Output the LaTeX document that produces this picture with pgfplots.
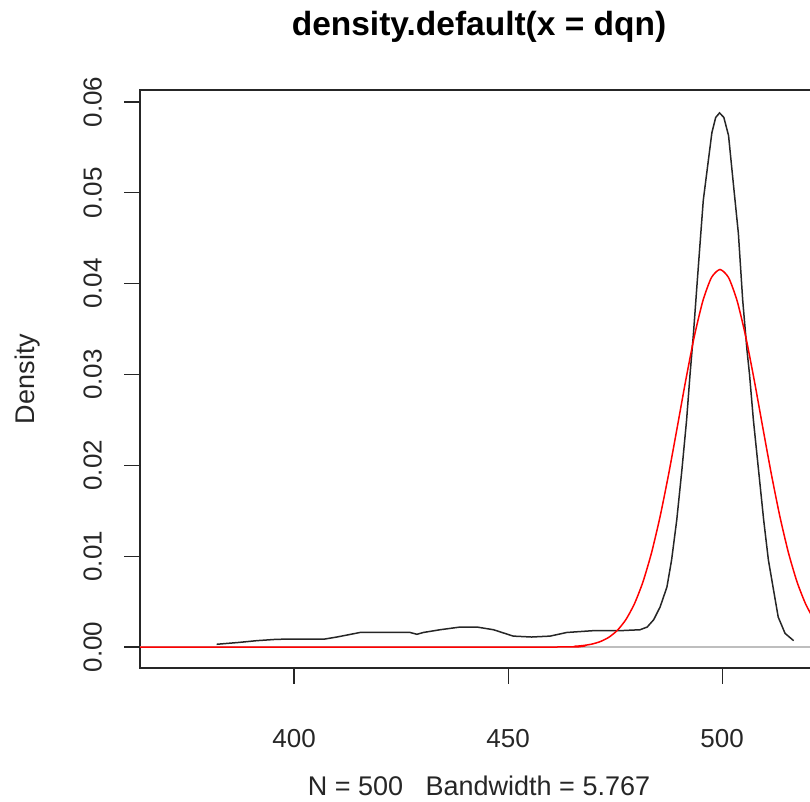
\documentclass[border=0pt]{standalone}
\usepackage{fontspec}
\setmainfont{Liberation Sans}
\usepackage{pgfplots}
\pgfplotsset{compat=1.18}
\definecolor{rgrey}{HTML}{BEBEBE}
\definecolor{rred}{HTML}{FF0000}

% kernel density of dqn (black)
\pgfplotstableread{
x y
381.9 0.0003
387.0 0.0005
391.3 0.0007
396.0 0.00085
402.0 0.00088
407.2 0.00088
410.0 0.0011
415.4 0.0016
421.0 0.0016
427.1 0.0016
428.7 0.0014
430.2 0.0016
434.1 0.0019
438.8 0.0022
442.7 0.0022
446.6 0.0019
451.2 0.0012
455.5 0.0011
459.8 0.0012
463.7 0.0016
469.9 0.0018
476.2 0.0018
480.8 0.0019
482.5 0.0022
484.0 0.0030
485.5 0.0044
487.1 0.0066
488.2 0.0096
489.4 0.0140
490.6 0.0195
491.7 0.0250
492.5 0.0300
493.3 0.0345
494.1 0.0397
494.9 0.0448
495.6 0.0492
496.6 0.0529
497.6 0.0566
498.5 0.0583
499.4 0.0588
500.4 0.0583
501.5 0.0563
502.6 0.0511
503.8 0.0455
504.8 0.0382
505.8 0.0327
506.4 0.0300
507.3 0.0250
508.5 0.0195
509.7 0.0140
510.8 0.0096
512.0 0.0063
513.1 0.0033
514.7 0.0015
516.7 0.0007
}\kde

% normal density overlay (red)
\pgfplotstableread{
x y
364.0 0
460.0 0
465.5 0.0000786
467.5 0.000161
469.5 0.000315
471.5 0.000591
473.5 0.001061
475.5 0.001826
477.5 0.003008
479.5 0.004745
481.5 0.007165
483.5 0.010365
485.5 0.01435
487.5 0.01903
489.5 0.02416
491.5 0.02937
493.5 0.03419
495.5 0.03811
497.5 0.04067
499.5 0.04156
501.5 0.04067
503.5 0.03811
505.5 0.03419
507.5 0.02937
509.5 0.02416
511.5 0.01903
513.5 0.01435
515.5 0.010365
517.5 0.007165
519.5 0.004745
521.5 0.003008
523.5 0.001826
}\normfit

\begin{document}
\begin{tikzpicture}[x=1bp,y=1bp]
\path[use as bounding box] (0,0) rectangle (810,802);
\begin{axis}[
    at={(140bp,134bp)}, anchor=south west,
    width=678bp, height=578bp, scale only axis,
    xmin=364, xmax=522.4,
    ymin=-0.00231, ymax=0.06132,
    xtick={400,450,500},
    ytick={0,0.01,0.02,0.03,0.04,0.05,0.06},
    scaled y ticks=false,
    y tick label style={/pgf/number format/fixed, /pgf/number format/fixed zerofill, /pgf/number format/precision=2},
    /pgf/number format/assume math mode=true,
    tick pos=left,
    tick align=outside,
    major tick length=16bp,
    axis line style={line width=1.2bp, black!85},
    tick style={line width=1.2bp, black!85},
    ticklabel style={font=\fontsize{26bp}{30bp}\selectfont, text=black!85},
    yticklabel style={rotate=90, anchor=south, inner sep=0pt},
    yticklabel shift=22bp,
    xticklabel style={anchor=north, inner sep=0pt},
    xticklabel shift=45bp,
    title={density.default(x = dqn)},
    title style={font=\bfseries\fontsize{33.5bp}{38bp}\selectfont, at={(axis description cs:0.5,1)}, anchor=base, yshift=49bp},
    xlabel={N = 500\ \ \ Bandwidth = 5.767},
    xlabel style={font=\fontsize{27bp}{30bp}\selectfont, text=black!85, at={(axis description cs:0.5,0)}, anchor=base, yshift=-127bp},
    ylabel={Density},
    ylabel style={font=\fontsize{27bp}{30bp}\selectfont, text=black!85, at={(axis description cs:-0.1563,0.5)}, anchor=base},
]
\addplot[rgrey, line width=1.5bp] coordinates {(364,0) (522.4,0)};
\addplot[black!85, line width=1.5bp] table[x=x, y=y] {\kde};
\addplot[rred, line width=1.5bp, smooth, tension=0.4] table[x=x, y=y] {\normfit};
\end{axis}
\end{tikzpicture}
\end{document}
